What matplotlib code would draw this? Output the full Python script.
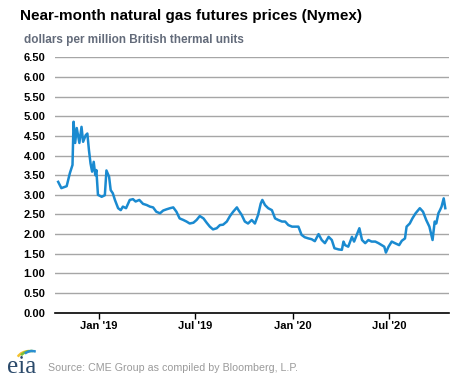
import matplotlib
matplotlib.use("Agg")
import matplotlib.pyplot as plt
from matplotlib.patches import Arc
import pandas as pd

plt.rcParams['font.family'] = ['Liberation Sans', 'DejaVu Sans']

dates = [
    "2018-10-16", "2018-10-22", "2018-11-01", "2018-11-07", "2018-11-12", "2018-11-14",
    "2018-11-17", "2018-11-20", "2018-11-25", "2018-11-29", "2018-12-02", "2018-12-07",
    "2018-12-10", "2018-12-13", "2018-12-16", "2018-12-19", "2018-12-22", "2018-12-25",
    "2018-12-27", "2018-12-30", "2019-01-06", "2019-01-12", "2019-01-15", "2019-01-20",
    "2019-01-23", "2019-01-27", "2019-01-31", "2019-02-06", "2019-02-11", "2019-02-15",
    "2019-02-21", "2019-02-28", "2019-03-06", "2019-03-11", "2019-03-18", "2019-03-25",
    "2019-04-01", "2019-04-07", "2019-04-13", "2019-04-19", "2019-04-26", "2019-05-02",
    "2019-05-08", "2019-05-15", "2019-05-21", "2019-05-27", "2019-06-02", "2019-06-09",
    "2019-06-15", "2019-06-21", "2019-06-28", "2019-07-04", "2019-07-10", "2019-07-17",
    "2019-07-23", "2019-07-29", "2019-08-04", "2019-08-11", "2019-08-17", "2019-08-23",
    "2019-08-30", "2019-09-05", "2019-09-11", "2019-09-18", "2019-09-21", "2019-09-27",
    "2019-10-03", "2019-10-09", "2019-10-16", "2019-10-22", "2019-10-28", "2019-11-02",
    "2019-11-05", "2019-11-10", "2019-11-16", "2019-11-23", "2019-11-29", "2019-12-05",
    "2019-12-12", "2019-12-18", "2019-12-24", "2019-12-31", "2020-01-06", "2020-01-12",
    "2020-01-18", "2020-01-24", "2020-01-31", "2020-02-06", "2020-02-12", "2020-02-19",
    "2020-02-25", "2020-03-02", "2020-03-09", "2020-03-15", "2020-03-20", "2020-03-28",
    "2020-04-03", "2020-04-06", "2020-04-09", "2020-04-15", "2020-04-22", "2020-04-26",
    "2020-05-01", "2020-05-06", "2020-05-11", "2020-05-17", "2020-05-23", "2020-05-29",
    "2020-06-05", "2020-06-11", "2020-06-17", "2020-06-22", "2020-06-25", "2020-06-30",
    "2020-07-06", "2020-07-12", "2020-07-20", "2020-07-25", "2020-07-31", "2020-08-03",
    "2020-08-09", "2020-08-14", "2020-08-20", "2020-08-28", "2020-09-03", "2020-09-09",
    "2020-09-15", "2020-09-21", "2020-09-25", "2020-09-28", "2020-10-02", "2020-10-05",
    "2020-10-08", "2020-10-12", "2020-10-15",
]
prices = [
    3.33, 3.17, 3.22, 3.55, 3.76, 4.86,
    4.32, 4.70, 4.32, 4.73, 4.35, 4.52,
    4.56, 4.14, 3.80, 3.59, 3.84, 3.50,
    3.63, 3.00, 2.95, 2.99, 3.62, 3.46,
    3.12, 3.04, 2.87, 2.66, 2.61, 2.70,
    2.66, 2.87, 2.89, 2.83, 2.87, 2.77,
    2.74, 2.70, 2.68, 2.57, 2.53, 2.60,
    2.63, 2.66, 2.68, 2.57, 2.40, 2.36,
    2.32, 2.27, 2.29, 2.36, 2.46, 2.40,
    2.29, 2.19, 2.12, 2.15, 2.23, 2.24,
    2.32, 2.46, 2.57, 2.68, 2.61, 2.49,
    2.32, 2.27, 2.36, 2.27, 2.49, 2.78,
    2.87, 2.74, 2.66, 2.61, 2.40, 2.36,
    2.32, 2.32, 2.23, 2.19, 2.19, 2.19,
    1.98, 1.92, 1.89, 1.87, 1.82, 2.00,
    1.85, 1.77, 1.93, 1.85, 1.64, 1.61,
    1.60, 1.81, 1.72, 1.68, 1.93, 1.81,
    1.98, 2.15, 1.85, 1.77, 1.85, 1.81,
    1.81, 1.77, 1.72, 1.68, 1.53, 1.68,
    1.81, 1.77, 1.72, 1.83, 1.89, 2.19,
    2.27, 2.40, 2.53, 2.66, 2.57, 2.36,
    2.19, 1.85, 2.32, 2.27, 2.53, 2.61,
    2.70, 2.91, 2.66,
]
y_ticks = [0.0, 0.5, 1.0, 1.5, 2.0, 2.5, 3.0, 3.5, 4.0, 4.5, 5.0, 5.5, 6.0, 6.5]
x_tick_dates = ["2019-01-01", "2019-07-01", "2020-01-01", "2020-07-01"]
x_tick_labels = ["Jan '19", "Jul '19", "Jan '20", "Jul '20"]

title = "Near-month natural gas futures prices (Nymex)"
subtitle = "dollars per million British thermal units"
source = "Source: CME Group as compiled by Bloomberg, L.P."

W, H = 477, 379
fig = plt.figure(figsize=(W / 100, H / 100), dpi=100)
ax = fig.add_axes([55 / W, 1 - 312.7 / H, (449 - 55) / W, (312.7 - 57.3) / H])

x = pd.to_datetime(dates)
ax.plot(x, prices, color="#1a8ad0", lw=1.8, solid_joinstyle="round")

ax.set_ylim(0, 6.5)
ax.set_xlim(pd.Timestamp("2018-10-10"), pd.Timestamp("2020-10-22"))
ax.set_yticks(y_ticks)
ax.set_yticklabels([f"{v:.2f}" for v in y_ticks])
ax.set_xticks(pd.to_datetime(x_tick_dates))
ax.set_xticklabels(x_tick_labels)

for v in y_ticks[1:]:
    ax.axhline(v, color="#a6a6a6", lw=1.0, zorder=0)

for s in ["top", "right", "left"]:
    ax.spines[s].set_visible(False)
ax.spines["bottom"].set_color("black")
ax.spines["bottom"].set_linewidth(1.2)

ax.tick_params(axis="y", length=0, pad=7, labelsize=8, labelcolor="black")
ax.tick_params(axis="x", length=4, width=1, color="black", pad=2, labelsize=8, labelcolor="black")
for lab in ax.get_xticklabels() + ax.get_yticklabels():
    lab.set_fontweight("bold")

fig.text(20 / W, 1 - 16 / H, title, fontsize=11, fontweight="bold", color="black",
         ha="left", va="center")
fig.text(24 / W, 1 - 40 / H, subtitle, fontsize=8.5, fontweight="bold", color="#636b7a",
         ha="left", va="center")
fig.text(48 / W, 1 - 368 / H, source, fontsize=7.7, color="#9a9a9a", ha="left", va="center")

# eia logo
fig.text(7 / W, 1 - 367 / H, "eia", fontsize=18, family="Liberation Serif", color="#2b4a6b",
         ha="left", va="center")
lax = fig.add_axes([10 / W, 1 - 360 / H, 26 / W, 12 / H])
lax.set_xlim(0, 26)
lax.set_ylim(0, 12)
lax.axis("off")
lax.add_patch(Arc((20, 0), 26, 18, theta1=95, theta2=165, color="#f2c12e", lw=1.8))
lax.add_patch(Arc((21, -1), 24, 20, theta1=80, theta2=150, color="#7cbf3a", lw=1.8))
lax.add_patch(Arc((22, -2), 22, 22, theta1=70, theta2=130, color="#2a8fd0", lw=1.8))

fig.savefig("out.png", dpi=100)
